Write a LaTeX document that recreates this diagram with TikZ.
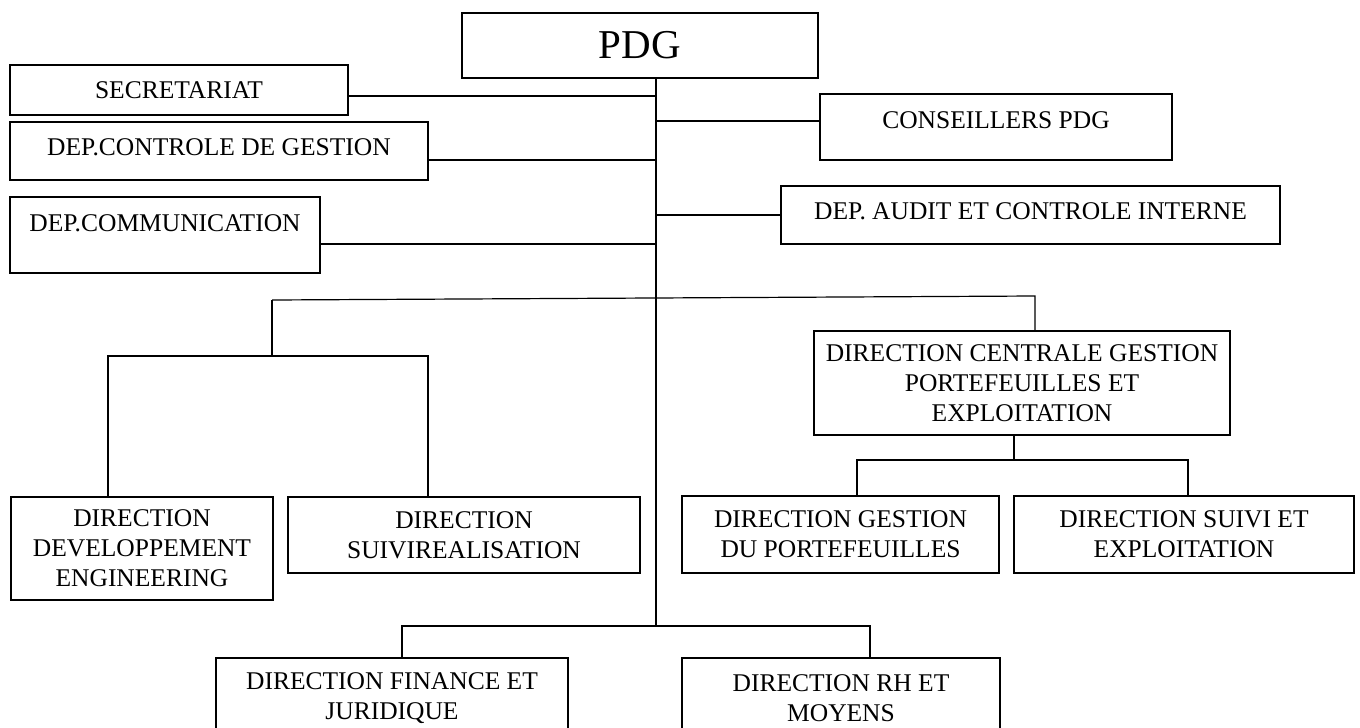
\documentclass[tikz,border=0pt]{standalone}
\usepackage{fontspec}
\setmainfont{Liberation Serif}
\begin{document}
\begin{tikzpicture}[x=1pt, y=-1pt,
    box/.style={draw, line width=2.2pt, inner sep=0pt, align=center,
      font=\fontsize{25.5}{30}\selectfont},
    link/.style={line width=1.2pt}]
    \useasboundingbox (0,0) rectangle (1360,728);
    \clip (0,0) rectangle (1360,728);

    % Top: PDG
    \node[box, minimum width=356pt, minimum height=65pt, font=\fontsize{41}{44}\selectfont] (pdg) at (640,45.5) {PDG};

    % Staff departments around the spine
    \node[box, minimum width=338pt, minimum height=50pt] (sec) at (179,90) {SECRETARIAT};
    \node[box, minimum width=352pt, minimum height=66pt, text height=17pt, text depth=14pt] (cons) at (996,127) {CONSEILLERS PDG};
    \node[box, minimum width=418pt, minimum height=58pt, text height=17pt, text depth=8pt] (ctrl) at (219,151) {DEP.CONTROLE DE GESTION};
    \node[box, minimum width=499pt, minimum height=58pt, text height=17pt, text depth=8pt] (audit) at (1030.5,215) {DEP. AUDIT ET CONTROLE INTERNE};
    \node[box, minimum width=310pt, minimum height=76pt, text height=17pt, text depth=24pt] (comm) at (165,235) {DEP.COMMUNICATION};

    % Directions
    \node[box, minimum width=416pt, minimum height=104pt] (dcgpe) at (1022,383) {DIRECTION CENTRALE GESTION\\PORTEFEUILLES ET\\EXPLOITATION};
    \node[box, minimum width=262pt, minimum height=103pt] (dde) at (142,548.5) {DIRECTION\\DEVELOPPEMENT\\ENGINEERING};
    \node[box, minimum width=352pt, minimum height=76pt] (dsr) at (464,535) {DIRECTION\\SUIVIREALISATION};
    \node[box, minimum width=317pt, minimum height=77pt] (dgp) at (840.5,534.5) {DIRECTION GESTION\\DU PORTEFEUILLES};
    \node[box, minimum width=340pt, minimum height=77pt] (dse) at (1184,534.5) {DIRECTION SUIVI ET\\EXPLOITATION};
    \node[box, minimum width=352pt, minimum height=80pt] (dfj) at (392,698) {DIRECTION FINANCE ET\\JURIDIQUE};
    \node[box, minimum width=318pt, minimum height=80pt] (drh) at (841,698) {DIRECTION RH ET\\MOYENS};

    % Spine from PDG down to the bottom tee
    \coordinate (spine) at ([xshift=16pt]pdg.south);
    \coordinate (tb) at (656,626);
    \draw[link] (spine) -- (tb);

    % Staff links
    \draw[link] ([yshift=-6pt]sec.east) -- ([yshift=-6pt]sec.east -| spine);
    \draw[link] ([yshift=6pt]cons.west) -- ([yshift=6pt]cons.west -| spine);
    \draw[link] ([yshift=-9pt]ctrl.east) -- ([yshift=-9pt]ctrl.east -| spine);
    \draw[link] (audit.west) -- (audit.west -| spine);
    \draw[link] ([yshift=-9pt]comm.east) -- ([yshift=-9pt]comm.east -| spine);

    % Upper branch
    \coordinate (tl) at (272,300);
    \coordinate (tr) at (1035,296);
    \coordinate (tll) at (272,356);
    \draw[link] (tl) -- (tr) -- (tr |- dcgpe.north);
    \draw[link] (tl) -- (tll);
    \draw[link] (dde.north -| 108,0) |- (tll) -| (dsr.north -| 428,0);

    % Under the central direction
    \coordinate (tc) at (1014,460);
    \draw[link] (dcgpe.south -| tc) -- (tc);
    \draw[link] (dgp.north -| 857,0) |- (tc) -| (dse.north -| 1188,0);

    % Bottom tee
    \draw[link] (dfj.north -| 402,0) |- (tb) -| (drh.north -| 870,0);
\end{tikzpicture}
\end{document}
